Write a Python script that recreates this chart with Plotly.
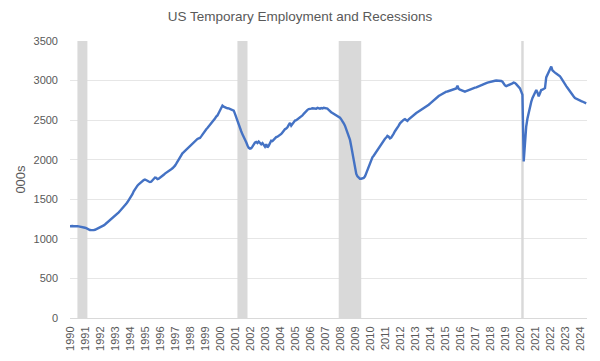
import plotly.graph_objects as go
import pandas as pd

start_month = "1990-01-01"
temp_employment = [
    1160,1165,1162,1160,1162,1158,1160,1157,1155,1152,1148,1145,  # 1990
    1140,1135,1125,1118,1112,1110,1108,1110,1115,1122,1128,1135,  # 1991
    1145,1152,1160,1170,1182,1195,1210,1222,1235,1250,1265,1280,  # 1992
    1290,1302,1318,1335,1352,1368,1382,1400,1420,1442,1465,1488,  # 1993
    1510,1535,1565,1600,1630,1655,1672,1690,1705,1718,1730,1742,  # 1994
    1750,1745,1735,1725,1718,1722,1740,1760,1775,1770,1755,1760,  # 1995
    1770,1780,1795,1810,1825,1835,1840,1855,1870,1880,1892,1905,  # 1996
    1925,1950,1975,2005,2030,2055,2080,2095,2110,2130,2150,2165,  # 1997
    2180,2192,2205,2215,2230,2250,2262,2270,2275,2295,2320,2345,  # 1998
    2370,2385,2400,2420,2440,2458,2470,2490,2520,2545,2560,2590,  # 1999
    2620,2650,2684,2670,2660,2655,2650,2648,2640,2635,2630,2620,  # 2000
    2580,2540,2490,2440,2400,2360,2320,2290,2260,2220,2180,2150,  # 2001
    2140,2145,2165,2195,2215,2225,2210,2230,2205,2195,2210,2180,  # 2002
    2165,2195,2155,2175,2215,2240,2235,2255,2270,2285,2290,2300,  # 2003
    2313,2325,2345,2370,2385,2395,2410,2440,2465,2430,2455,2475,  # 2004
    2495,2500,2510,2525,2535,2545,2560,2580,2600,2615,2630,2640,  # 2005
    2640,2645,2650,2648,2652,2645,2655,2650,2645,2652,2648,2655,  # 2006
    2650,2640,2645,2630,2610,2600,2590,2580,2570,2560,2555,2545,  # 2007
    2530,2510,2490,2460,2430,2390,2350,2300,2250,2170,2080,1990,  # 2008
    1880,1820,1790,1770,1760,1760,1765,1770,1790,1830,1870,1910,  # 2009
    1960,2000,2030,2050,2075,2100,2120,2140,2160,2190,2220,2250,  # 2010
    2265,2280,2300,2290,2270,2280,2300,2330,2360,2380,2400,2430,  # 2011
    2460,2480,2490,2505,2512,2495,2490,2510,2525,2540,2555,2570,  # 2012
    2580,2590,2600,2610,2620,2630,2640,2650,2660,2670,2680,2695,  # 2013
    2710,2725,2740,2755,2770,2785,2795,2805,2815,2825,2835,2845,  # 2014
    2855,2860,2862,2868,2875,2880,2885,2890,2895,2900,2935,2895,  # 2015
    2885,2880,2870,2862,2860,2868,2875,2880,2885,2890,2898,2905,  # 2016
    2910,2915,2920,2930,2940,2945,2950,2955,2960,2968,2975,2980,  # 2017
    2985,2988,2992,2995,2998,3000,3000,3002,3000,2995,2985,2960,  # 2018
    2940,2930,2935,2945,2955,2960,2965,2975,2970,2955,2935,2925,  # 2019
    2900,2860,2820,1977,2250,2420,2520,2600,2670,2730,2780,2820,  # 2020
    2860,2882,2850,2800,2840,2880,2885,2900,2905,3040,3080,3110,  # 2021
    3140,3178,3130,3110,3100,3090,3080,3065,3055,3030,3000,2975,  # 2022
    2950,2930,2910,2885,2865,2840,2820,2800,2780,2770,2760,2755,  # 2023
    2745,2740,2735,2728,2720,2712,                                # 2024
]
dates = pd.date_range(start_month, periods=len(temp_employment), freq="MS")

recession_starts = ["1990-07-01", "2001-03-01", "2007-12-01", "2020-02-01"]
recession_ends = ["1991-03-01", "2001-11-01", "2009-06-01", "2020-04-01"]

year_ticks = [f"{y}-01-01" for y in range(1990, 2025)]
year_labels = [str(y) for y in range(1990, 2025)]
y_ticks = [0, 500, 1000, 1500, 2000, 2500, 3000, 3500]

fig = go.Figure()
fig.add_trace(go.Scatter(
    x=dates, y=temp_employment, mode="lines",
    line=dict(color="#4472C4", width=2.4), showlegend=False,
))

for s, e in zip(recession_starts, recession_ends):
    fig.add_shape(type="rect", xref="x", yref="y", x0=s, x1=e, y0=0, y1=3500,
                  fillcolor="#d9d9d9", line=dict(width=0), layer="between")

font_color = "#595959"
# page body has an 8px default margin, so the figure is sized/positioned to compensate
W, H = 592, 353
fig.update_layout(
    width=W, height=H,
    margin=dict(l=62, r=13, t=33, b=43, autoexpand=False),
    paper_bgcolor="white", plot_bgcolor="white",
    font=dict(family="Liberation Sans, Arial, sans-serif", size=11, color=font_color),
    title=dict(text="US Temporary Employment and Recessions",
               xref="container", x=292 / W, xanchor="center",
               yref="container", y=1 - 8 / H, yanchor="middle",
               font=dict(size=13.5, color=font_color)),
)
fig.update_xaxes(
    range=["1990-01-01", "2024-06-20"], tickmode="array", tickvals=year_ticks,
    ticktext=year_labels, tickangle=-90, showgrid=False, showline=True,
    linecolor="#d9d9d9", linewidth=1, ticks="", ticklabelstandoff=3,
    automargin=False,
)
fig.update_yaxes(
    range=[0, 3500], tickmode="array", tickvals=y_ticks, showgrid=True,
    gridcolor="#e6e6e6", gridwidth=1, zeroline=False, showline=False,
    ticklabelstandoff=11, title=dict(text="000s", standoff=4),
    automargin=False,
)

fig.write_html("out.html")
